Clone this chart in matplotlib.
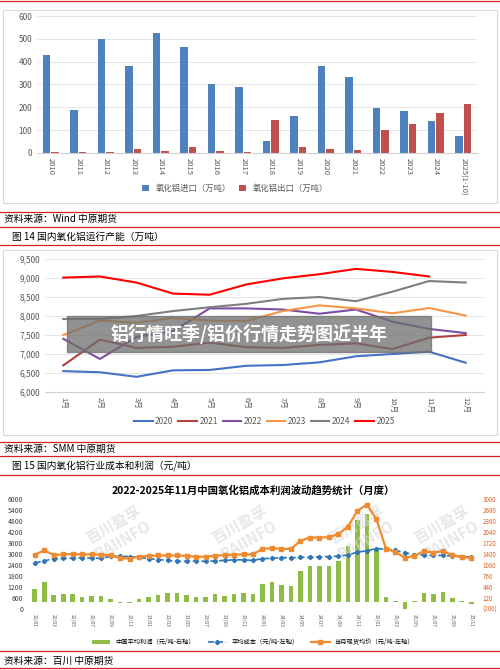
import matplotlib
matplotlib.use('Agg')
from matplotlib import pyplot as plt
from matplotlib.lines import Line2D
from matplotlib.patches import Rectangle
import numpy as np

plt.rcParams['font.family'] = ['Noto Sans CJK SC', 'DejaVu Sans']

# chart 1: alumina import / export
years = ['2010', '2011', '2012', '2013', '2014', '2015', '2016', '2017', '2018',
         '2019', '2020', '2021', '2022', '2023', '2024', '2025(1-10)']
imports = [430, 188, 500, 383, 527, 465, 302, 287, 52, 164, 380, 333, 198, 183, 142, 73]
exports = [6, 5, 3, 18, 10, 28, 9, 4, 145, 26, 16, 12, 100, 125, 177, 215]

# chart 2: domestic capacity by month
months = ['1月', '2月', '3月', '4月', '5月', '6月', '7月', '8月', '9月', '10月', '11月', '12月']
cap = {
    '2020': [6550, 6520, 6400, 6570, 6580, 6690, 6710, 6780, 6940, 7000, 7060, 6770],
    '2021': [6700, 7380, 7160, 7190, 7300, 7180, 7160, 7240, 7280, 7130, 7430, 7500],
    '2022': [7400, 6870, 7450, 7600, 8200, 8200, 8170, 8060, 8170, 7850, 7660, 7550],
    '2023': [7500, 7880, 7820, 7950, 7880, 7870, 8130, 8280, 8200, 8070, 8210, 8010],
    '2024': [7920, 7920, 8000, 8130, 8230, 8320, 8450, 8500, 8390, 8640, 8920, 8880],
    '2025': [9010, 9040, 8880, 8590, 8560, 8830, 8990, 9100, 9240, 9160, 9040],
}
cap_colors = {'2020': '#4472c4', '2021': '#b0413e', '2022': '#7b4ea3',
              '2023': '#f79646', '2024': '#7f7f7f', '2025': '#ff0000'}

# chart 3: cost / profit, 2022-01 .. 2025-11
periods = ['%02d/%02d' % (y, m) for y in (22, 23, 24, 25) for m in range(1, 13)][:47]
profit = [376, 589, 216, 227, 227, 163, 173, 184, 88, -19, -24, 83, 163, 216, 269, 269,
          216, 163, 163, 227, 184, 237, 280, 243, 520, 579, 504, 483, 893, 1053, 1037,
          1037, 1187, 1640, 2387, 2563, 1507, 147, 40, -280, 40, 253, 227, 296, 120, 30, -40]
cost = [2520, 2620, 2750, 2760, 2770, 2790, 2780, 2760, 2880, 2870, 2860, 2820, 2750,
        2700, 2650, 2600, 2600, 2620, 2600, 2620, 2650, 2680, 2680, 2650, 2750, 2760,
        2800, 2800, 2820, 2820, 2850, 2860, 2880, 2950, 3100, 3180, 3300, 3250, 3200,
        3080, 2950, 2950, 2920, 2920, 2900, 2850, 2850]
price = [2950, 3200, 2950, 2980, 3000, 2980, 2980, 2960, 2930, 2780, 2750, 2860, 2900,
         2920, 2920, 2920, 2900, 2850, 2850, 2900, 2940, 2960, 2980, 2980, 3280, 3320,
         3280, 3280, 3720, 3900, 3900, 3920, 4080, 4500, 5350, 5700, 4900, 3300, 3100,
         2800, 2900, 3150, 3080, 3150, 2950, 2820, 2800]

W, H = 500, 670
fig = plt.figure(figsize=(5, 6.7), dpi=100)


def px_axes(x0, y0, x1, y1):
    return fig.add_axes([x0 / W, 1 - y1 / H, (x1 - x0) / W, (y1 - y0) / H])


def red_line(y):
    fig.add_artist(Line2D([0, 1], [1 - y / H, 1 - y / H], color='#d62020', lw=0.9))


def ftext(x, y, s, **kw):
    fig.text(x / W, 1 - y / H, s, va='center', **kw)


for y in (1, 212, 227, 245, 442, 456, 475, 651, 668):
    red_line(y)
fig.add_artist(Rectangle((3 / W, 1 - 203 / H), 494 / W, 193 / H, fill=False, ec='#d9d9d9', lw=0.8))
fig.add_artist(Rectangle((3 / W, 1 - 435 / H), 494 / W, 185 / H, fill=False, ec='#d9d9d9', lw=0.8))

ftext(4, 219, '资料来源：Wind 中原期货', fontsize=7)
ftext(12, 237, '图 14 国内氧化铝运行产能（万吨）', fontsize=7)
ftext(4, 449, '资料来源：SMM 中原期货', fontsize=7)
ftext(12, 466, '图 15 国内氧化铝行业成本和利润（元/吨）', fontsize=7)
ftext(4, 661, '资料来源：百川 中原期货', fontsize=7)

# ---- chart 1
ax1 = px_axes(37, 16, 477, 153)
x = np.arange(len(years))
ax1.bar(x - 0.15, imports, 0.27, color='#4f81bd', label='氧化铝进口（万吨）')
ax1.bar(x + 0.15, exports, 0.27, color='#c0504d', label='氧化铝出口（万吨）')
ax1.set_ylim(0, 600)
ax1.set_yticks(range(0, 601, 100))
ax1.set_xlim(-0.5, len(years) - 0.5)
ax1.set_xticks(x)
ax1.set_xticklabels(years, rotation=-90, fontsize=5.5, color='#595959')
ax1.tick_params(axis='y', labelsize=6, colors='#595959', length=0)
ax1.tick_params(axis='x', length=0)
ax1.grid(axis='y', color='#e0e0e0', lw=0.6)
ax1.set_axisbelow(True)
for s in ['top', 'right', 'left']:
    ax1.spines[s].set_visible(False)
ax1.spines['bottom'].set_color('#d0d0d0')
ax1.legend(loc='center', bbox_to_anchor=(0.45, -0.26), ncol=2, fontsize=6, frameon=False,
           handlelength=0.8, columnspacing=1, labelcolor='#595959')

# ---- chart 2
ax2 = px_axes(45, 259, 484, 392)
xm = np.arange(12)
for yr, vals in cap.items():
    ax2.plot(xm[:len(vals)], vals, color=cap_colors[yr], lw=1.5, label=yr)
ax2.set_ylim(6000, 9500)
ax2.set_yticks(range(6000, 9501, 500))
ax2.set_yticklabels(['{:,}'.format(v) for v in range(6000, 9501, 500)])
ax2.set_xlim(-0.5, 11.5)
ax2.set_xticks(xm)
ax2.set_xticklabels(months, rotation=-90, fontsize=5.5, color='#595959')
ax2.tick_params(axis='y', labelsize=6, colors='#595959', length=0)
ax2.tick_params(axis='x', length=0)
ax2.grid(axis='y', color='#e0e0e0', lw=0.6)
for s in ['top', 'right', 'left']:
    ax2.spines[s].set_visible(False)
ax2.spines['bottom'].set_color('#d0d0d0')
ax2.legend(loc='center', bbox_to_anchor=(0.5, -0.22), ncol=6, fontsize=6, frameon=False,
           handlelength=2.2, columnspacing=0.6, handletextpad=0.3, labelcolor='#595959')

# overlay banner
fig.add_artist(Rectangle((67 / W, 1 - 352 / H), 364 / W, 36 / H, color='#6e6e6e', alpha=0.75))
ftext(249, 334, '铝行情旺季/铝价行情走势图近半年', fontsize=13, color='white',
      fontweight='bold', ha='center')

# ---- chart 3
ax3 = px_axes(28, 499, 478, 609)
ax3r = ax3.twinx()
xp = np.arange(len(periods))
ax3r.bar(xp, profit, 0.5, color='#8fbc45', label='中国平均利润（元/吨-右轴）')
ax3r.set_ylim(-200, 3000)
ax3r.set_yticks(range(-200, 3001, 320))
ax3r.set_yticklabels(['(200)'] + [str(v) for v in range(120, 3001, 320)])
ax3r.tick_params(labelsize=4.5, colors='#e06020', length=0)
ax3.set_zorder(ax3r.get_zorder() + 1)
ax3.patch.set_visible(False)
ax3.plot(xp, cost, color='#2e75b6', lw=1.2, ls='--', marker='D', ms=2.2, label='平均成本（元/吨-左轴）')
ax3.plot(xp, price, color='#f08a30', lw=1.6, marker='s', ms=2.8, label='当月现货均价（元/吨-左轴）')
ax3.set_ylim(0, 6000)
ax3.set_yticks(range(0, 6001, 600))
ax3.set_xlim(-0.7, len(periods) - 0.3)
ax3.set_xticks(xp[::2])
ax3.set_xticklabels(periods[::2], rotation=-90, fontsize=3.5, color='#595959')
ax3.tick_params(axis='y', labelsize=5, colors='#404040', length=0)
ax3.tick_params(axis='x', length=0)
for a in (ax3, ax3r):
    for s in a.spines.values():
        s.set_visible(False)
ax3.set_title('2022-2025年11月中国氧化铝成本利润波动趋势统计（月度）', fontsize=7.5,
              fontweight='bold', pad=4)
for wx in (0.2, 0.48, 0.74, 0.93):
    ax3.text(wx, 0.7, '百川盈孚\nBAIINFO', transform=ax3.transAxes, fontsize=11, color='#d8d8d8',
             rotation=30, ha='center', va='center', alpha=0.6, fontweight='bold', zorder=0)
h1, l1 = ax3r.get_legend_handles_labels()
h2, l2 = ax3.get_legend_handles_labels()
ax3.legend(h1 + h2, l1 + l2, loc='center', bbox_to_anchor=(0.5, -0.3), ncol=3, fontsize=4.5,
           frameon=False, handlelength=3, columnspacing=2)

fig.savefig('out.png', dpi=100)
